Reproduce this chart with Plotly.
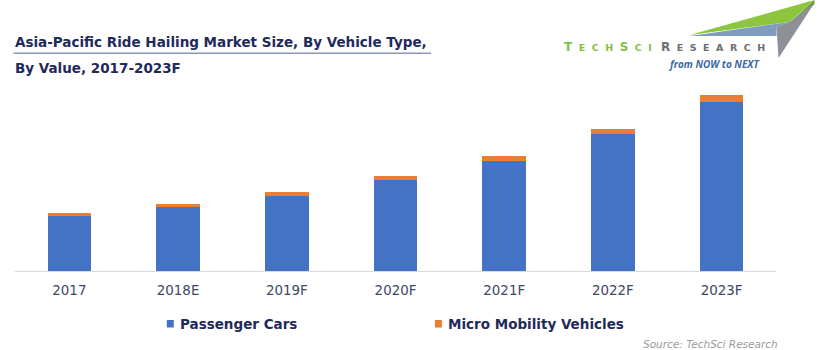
import plotly.graph_objects as go

categories = ["2017", "2018E", "2019F", "2020F", "2021F", "2022F", "2023F"]
passenger_cars = [5.53, 6.37, 7.50, 9.10, 11.03, 13.67, 16.90]
micro_mobility = [0.24, 0.33, 0.37, 0.43, 0.47, 0.53, 0.70]
series_names = ["Passenger Cars", "Micro Mobility Vehicles"]
title_line1 = "Asia-Pacific Ride Hailing Market Size, By Vehicle Type,"
title_line2 = "By Value, 2017-2023F"
source_text = "Source: TechSci Research"

BLUE = "#4472c4"
ORANGE = "#ed7d31"
NAVY = "#1f2a5c"
TICK = "#3d4766"
W, H = 820, 350
ML, MR, MT, MB = 14.5, 43.5, 80, 79
PW, PH = W - ML - MR, H - MT - MB

fig = go.Figure()
fig.add_trace(go.Bar(x=categories, y=passenger_cars, name=series_names[0],
                     marker=dict(color=BLUE, line=dict(width=0))))
fig.add_trace(go.Bar(x=categories, y=micro_mobility, name=series_names[1],
                     marker=dict(color=ORANGE, line=dict(width=0))))

def px(x):
    return (x - ML) / PW

def py(y):
    return (H - MB - y) / PH

annotations = []
shapes = []

# Title
annotations.append(dict(x=px(12), y=py(42), xref="paper", yref="paper", xanchor="left", yanchor="middle",
                        text="<b>" + title_line1 + "</b>", showarrow=False,
                        font=dict(family="DejaVu Sans", size=13.5, color=NAVY)))
annotations.append(dict(x=px(12), y=py(67.5), xref="paper", yref="paper", xanchor="left", yanchor="middle",
                        text="<b>" + title_line2 + "</b>", showarrow=False,
                        font=dict(family="DejaVu Sans", size=13.5, color=NAVY)))
shapes.append(dict(type="line", xref="paper", yref="paper", x0=px(13), x1=px(431), y0=py(53.3), y1=py(53.3),
                   line=dict(color="#8a97b3", width=1.5)))

# Legend (custom)
leg = [(166.5, 177.5, BLUE, series_names[0]), (435, 446, ORANGE, series_names[1])]
for x0, xt, col, name in leg:
    shapes.append(dict(type="rect", xref="paper", yref="paper", x0=px(x0), x1=px(x0 + 7), y0=py(327.5), y1=py(320),
                       fillcolor=col, line=dict(width=0)))
    annotations.append(dict(x=px(xt), y=py(324), xref="paper", yref="paper", xanchor="left", yanchor="middle",
                            text="<b>" + name + "</b>", showarrow=False,
                            font=dict(family="DejaVu Sans", size=13.5, color=NAVY)))

# Source
annotations.append(dict(x=px(781), y=py(344), xref="paper", yref="paper", xanchor="right", yanchor="middle",
                        text="<i>" + source_text + "</i>", showarrow=False,
                        font=dict(family="DejaVu Sans", size=10.5, color="#9a9a9a")))

# Logo swoosh
def path(pts):
    return "M " + " L ".join(f"{px(x)},{py(y)}" for x, y in pts) + " Z"

shapes.append(dict(type="path", xref="paper", yref="paper", path=path([(690, 35), (815, 0), (790, 22)]),
                   fillcolor="#8cc63f", line=dict(width=0)))
shapes.append(dict(type="path", xref="paper", yref="paper", path=path([(793, 20), (815, 0), (815, 4), (800, 20)]),
                   fillcolor="#6a9a2e", line=dict(width=0)))
shapes.append(dict(type="path", xref="paper", yref="paper", path=path([(690, 36), (790, 22), (777, 27), (777, 36)]),
                   fillcolor="#7f9bbd", line=dict(width=0)))
shapes.append(dict(type="path", xref="paper", yref="paper", path=path([(777, 27), (790, 22), (815, 3), (779, 58)]),
                   fillcolor="#8d9097", line=dict(width=0)))

sp = "<span style='font-size:13px'>\u2002</span>"
sm = lambda s: "<span style='font-size:9.5px'>" + s + "</span>"
techsci = "T" + sp + sm("E") + sp + sm("C") + sp + sm("H") + sp + "S" + sp + sm("C") + sp + sm("I")
research = "R" + sp + sm("E") + sp + sm("S") + sp + sm("E") + sp + sm("A") + sp + sm("R") + sp + sm("C") + sp + sm("H")
annotations.append(dict(x=px(562), y=py(46.5), xref="paper", yref="paper", xanchor="left", yanchor="middle",
                        text="<b>" + techsci + "</b>", showarrow=False,
                        font=dict(family="DejaVu Sans", size=12, color="#7dc242")))
annotations.append(dict(x=px(659), y=py(46.5), xref="paper", yref="paper", xanchor="left", yanchor="middle",
                        text="<b>" + research + "</b>", showarrow=False,
                        font=dict(family="DejaVu Sans", size=12, color="#6d6e72")))
annotations.append(dict(x=px(762), y=py(63.5), xref="paper", yref="paper", xanchor="right", yanchor="middle",
                        text="<b><i>from NOW to NEXT</i></b>", showarrow=False,
                        font=dict(family="Open Sans", size=10, color="#3b6aa8")))

fig.update_layout(
    width=W, height=H,
    margin=dict(l=ML, r=MR, t=MT, b=MB, pad=0),
    barmode="stack", bargap=0.6,
    paper_bgcolor="white", plot_bgcolor="white",
    showlegend=False,
    xaxis=dict(showline=True, linecolor="#d9d9d9", linewidth=1, showgrid=False, zeroline=False,
               ticks="", tickfont=dict(family="DejaVu Sans", size=13.4, color=TICK), ticklabelstandoff=7),
    yaxis=dict(visible=False, range=[0, 19.1], showgrid=False, zeroline=False),
    annotations=annotations, shapes=shapes,
)

fig.write_html("out.html")
